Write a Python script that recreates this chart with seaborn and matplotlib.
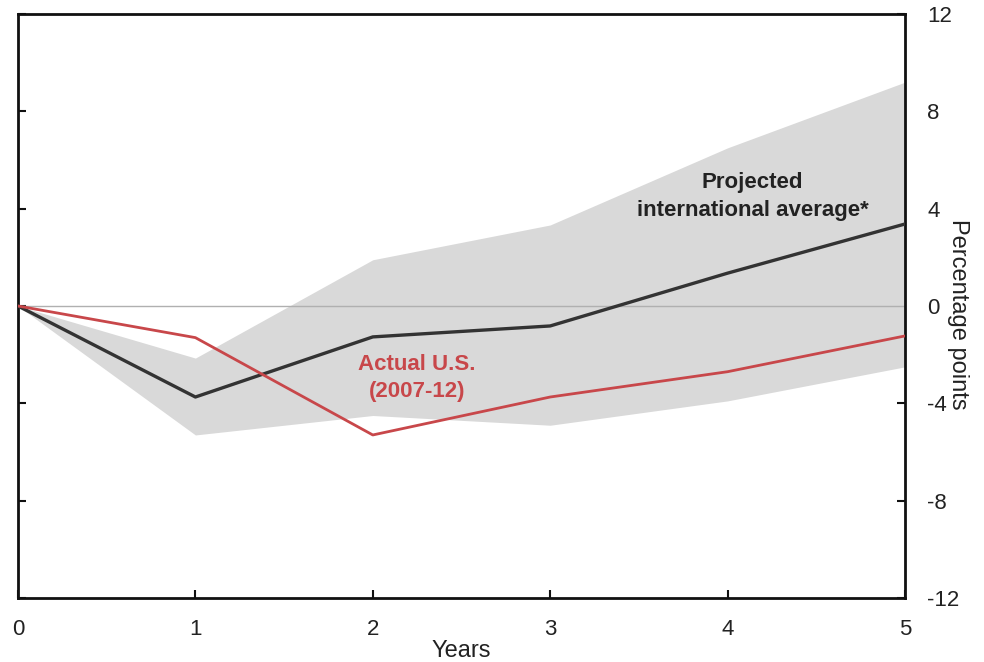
import matplotlib
matplotlib.use("Agg")
import matplotlib.pyplot as plt
import seaborn as sns
import pandas as pd

years = [0, 1, 2, 3, 4, 5]
intl_avg = [0, -3.74, -1.27, -0.82, 1.35, 3.37]
actual_us = [0, -1.3, -5.3, -3.74, -2.7, -1.23]
band_upper = [0, -2.14, 1.9, 3.33, 6.5, 9.2]
band_lower = [0, -5.3, -4.5, -4.9, -3.9, -2.5]
yticks = [-12, -8, -4, 0, 4, 8, 12]

sns.set_theme(style="white")
plt.rcParams['font.family'] = ['Liberation Sans', 'DejaVu Sans']
plt.rcParams['axes.unicode_minus'] = False

fig = plt.figure(figsize=(9.84, 6.62), dpi=100)
ax = fig.add_axes([18/984, 1-598/662, (905-18)/984, (598-14)/662])

df = pd.DataFrame({"Years": years, "intl": intl_avg, "us": actual_us})

ax.fill_between(years, band_lower, band_upper, color="#d9d9d9", linewidth=0, zorder=1)
ax.axhline(0, color="#b0b0b0", linewidth=1, zorder=2)
sns.lineplot(data=df, x="Years", y="intl", ax=ax, color="#333333", linewidth=2.4, zorder=3)
sns.lineplot(data=df, x="Years", y="us", ax=ax, color="#c8474a", linewidth=2.0, zorder=3)

ax.set_xlim(0, 5)
ax.set_ylim(-12, 12)
ax.set_xticks(years)
ax.set_yticks(yticks)
ax.yaxis.tick_right()
ax.yaxis.set_label_position("right")
ax.tick_params(axis="y", which="both", direction="in", left=True, right=True,
               labelleft=False, labelright=True, length=6, width=1.5, labelsize=16, pad=16,
               color="#111111", labelcolor="#222222")
ax.tick_params(axis="x", direction="in", bottom=True, length=6, width=1.5, labelsize=16, pad=15,
               color="#111111", labelcolor="#222222")
for s in ax.spines.values():
    s.set_color("#111111")
    s.set_linewidth(2)

ax.set_xlabel("Years", fontsize=17, labelpad=0, color="#222222")
ax.set_ylabel("Percentage points", fontsize=17, rotation=270, color="#222222")
ax.yaxis.set_label_coords(1.072, 0.485)

ax.text(4.14, 4.5, "Projected\ninternational average*", ha="center", va="center",
        fontsize=16, fontweight="bold", color="#222222", linespacing=1.4, zorder=4)
ax.text(2.25, -2.95, "Actual U.S.\n(2007-12)", ha="center", va="center",
        fontsize=16, fontweight="bold", color="#c8474a", linespacing=1.4, zorder=4)

fig.savefig("out.png", dpi=100)
